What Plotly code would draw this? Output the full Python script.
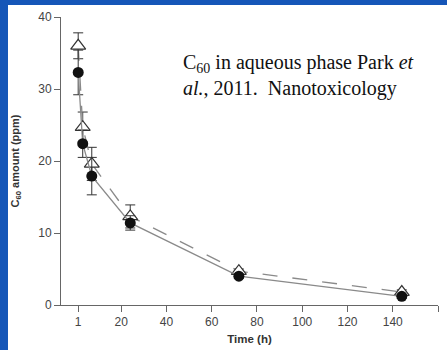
import plotly.graph_objects as go

# sampling times (h)
time_h = [1, 3, 7, 24, 72, 144]

# C60 amount (ppm), filled circles
circle_vals = [32.3, 22.4, 17.9, 11.4, 4.0, 1.2]
circle_err = [3.1, 1.9, 2.6, 1.0, 0.3, 0.3]

# C60 amount (ppm), open triangles
tri_vals = [36.0, 24.7, 19.6, 12.3, 4.7, 1.8]
tri_err = [1.8, 2.1, 2.3, 1.6, 0.3, 0.3]

x_ticks = [1, 20, 40, 60, 80, 100, 120, 140, 160]
y_ticks = [0, 10, 20, 30, 40]

fig = go.Figure()

fig.add_trace(go.Scatter(
    x=time_h, y=tri_vals,
    mode="lines+markers",
    line=dict(color="#8a8a8a", width=1.3, dash="longdash"),
    marker=dict(symbol="triangle-up", size=13, color="white",
                line=dict(color="#333333", width=1.2)),
    error_y=dict(type="data", array=tri_err, color="#333333", thickness=1, width=5),
    cliponaxis=False,
    showlegend=False,
))

fig.add_trace(go.Scatter(
    x=time_h, y=circle_vals,
    mode="lines+markers",
    line=dict(color="#8a8a8a", width=1.3),
    marker=dict(symbol="circle", size=11, color="#111111"),
    error_y=dict(type="data", array=circle_err, color="#333333", thickness=1, width=5),
    cliponaxis=False,
    showlegend=False,
))

axis_font = dict(family="Liberation Sans, Arial", size=12, color="#444444")

fig.update_xaxes(
    range=[-6.6, 160], tickvals=x_ticks, ticktext=[str(v) for v in x_ticks],
    showgrid=False, zeroline=False,
    showline=True, linecolor="#666666", linewidth=1,
    ticks="outside", ticklen=6, tickcolor="#666666",
    tickfont=axis_font,
    title=dict(text="<b>Time (h)</b>", font=dict(family="Liberation Sans, Arial", size=11.5, color="#333333"), standoff=6),
    automargin=False,
)
fig.update_yaxes(
    range=[0, 40], tickvals=y_ticks,
    showgrid=False, zeroline=False,
    showline=True, linecolor="#666666", linewidth=1,
    ticks="outside", ticklen=6, tickcolor="#666666",
    tickfont=axis_font,
    title=dict(text="<b>C<sub>60</sub> amount (ppm)</b>", font=dict(family="Liberation Sans, Arial", size=11, color="#333333"), standoff=16),
    automargin=False,
)

# slide frame (blue strips on the left and top)
fig.add_shape(type="rect", xref="paper", yref="paper",
              x0=-0.17, x1=-0.1406, y0=-0.2, y1=1.1,
              fillcolor="#1556b8", line=dict(width=0), layer="above")
fig.add_shape(type="rect", xref="paper", yref="paper",
              x0=-0.17, x1=1.1, y0=1.0417, y1=1.1,
              fillcolor="#1556b8", line=dict(width=0), layer="above")

fig.add_annotation(
    xref="paper", yref="paper", x=0.318, y=0.888,
    xanchor="left", yanchor="top", align="left", showarrow=False,
    text="C<sub>60</sub> in aqueous phase Park <i>et</i><br><i>al.</i>, 2011.  Nanotoxicology",
    font=dict(family="Liberation Serif, Times New Roman", size=20, color="#111111"),
)

fig.update_layout(
    width=447, height=350,
    margin=dict(l=61, r=9, t=17, b=45),
    paper_bgcolor="white", plot_bgcolor="white",
)

fig.write_html("out.html", config={"displayModeBar": False},
               post_script="document.body.style.margin='0';")
